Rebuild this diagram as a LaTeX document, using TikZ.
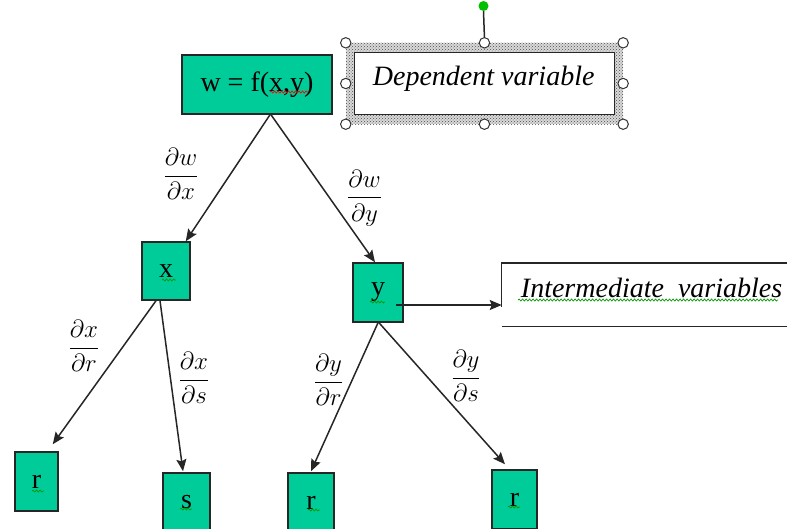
\documentclass[tikz,border=0pt]{standalone}
\usepackage{amsmath}
\usepackage{fontspec}
\setmainfont{Liberation Serif}
\usetikzlibrary{arrows.meta, positioning, patterns, decorations.pathmorphing}
\definecolor{boxgreen}{RGB}{0,204,153}

\begin{document}
\begin{tikzpicture}[
    x=1pt, y=-1pt,
    var/.style={rectangle, draw=black!85, line width=1.5pt, fill=boxgreen, minimum width=46pt, minimum height=59pt, inner sep=0pt, font=\fontsize{28}{32}\selectfont},
    func/.style={var, minimum width=150pt},
    note/.style={inner sep=0pt, font=\fontsize{28}{32}\selectfont\itshape},
    deriv/.style={inner sep=0pt, font=\fontsize{23}{27}\selectfont},
    arrow/.style={-{Stealth[length=12pt, width=10pt, inset=2pt]}, line width=1.5pt, draw=black!85},
    handle/.style={draw=black!80, fill=white, line width=1pt},
    squig/.style={decorate, decoration={snake, amplitude=1pt, segment length=3.5pt}, line width=0.7pt}
]
\useasboundingbox (0,0) rectangle (787,528);
\clip (0,0) rectangle (787,528);

% top of the tree
\node (w) [func] at (257,84.5) {w = f(x,y)};

% selected text box
\node (sel) [rectangle, minimum width=277pt, minimum height=81pt, inner sep=0pt, fill=gray!30, right=13pt of w, yshift=1pt] {};
\fill[pattern=crosshatch dots, pattern color=black!70] (sel.north west) rectangle (sel.south east);
\node (dep) [rectangle, draw=black!85, line width=1.6pt, fill=white, minimum width=260pt, minimum height=62pt, inner sep=0pt] at (sel.center) {};
\node (deptext) [note, anchor=base west] at ([xshift=19pt, yshift=-1.5pt]dep.west) {Dependent variable};
\foreach \a in {north west, north, north east, west, east, south west, south, south east}
    \draw[handle] (sel.\a) circle (5.2pt);
\draw[line width=1.5pt, black!85] ([yshift=5.2pt]sel.north) -- (483.5,11);
\fill[green!75!black] (483.5,6) circle (5pt);

% variables
\node (x) [var, minimum width=48pt, minimum height=58pt] at (166,271) {x};
\node (y) [var, minimum width=50pt] at (378,292.5) {y};
\node (r1) [var, minimum width=43pt] at (36.5,481.5) {r};
\node (s) [var, minimum width=47pt] at (186.5,502.5) {s};
\node (r2) [var] at (311,502.5) {r};
\node (r3) [var, minimum width=45pt] at (514.5,499.5) {r};

% intermediate variables box
\node (interbox) [rectangle, minimum width=300pt, minimum height=63pt, inner sep=0pt, anchor=west, right=98pt of y, yshift=-2pt] {};
\draw[line width=1.4pt, black!85] (interbox.north east) -- (interbox.north west) -- ([yshift=-44pt]interbox.north west);
\draw[line width=1.4pt, black!85] (interbox.south west) -- (interbox.south east);
\node (inter) [note, anchor=base west] at ([xshift=19pt, yshift=-2.5pt]interbox.west) {Intermediate\ \ variables};

% partial derivatives
\node (dwdx) [deriv] at (181,174) {$\dfrac{\partial w}{\partial x}$};
\node (dwdy) [deriv] at (364.5,198) {$\dfrac{\partial w}{\partial y}$};
\node (dxdr) [deriv] at (84,346) {$\dfrac{\partial x}{\partial r}$};
\node (dxds) [deriv] at (194,378) {$\dfrac{\partial x}{\partial s}$};
\node (dydr) [deriv] at (328.5,380) {$\dfrac{\partial y}{\partial r}$};
\node (dyds) [deriv] at (466,376) {$\dfrac{\partial y}{\partial s}$};

% connectors
\draw [arrow] ([xshift=13pt]w.south) -- ([xshift=-5pt]x.north east);
\draw [arrow] ([xshift=14pt]w.south) -- ([xshift=-3pt]y.north);
\draw [arrow] ([xshift=-10pt]x.south) -- ([xshift=-6pt, yshift=7pt]r1.north east);
\draw [arrow] ([xshift=-6pt]x.south) -- ([xshift=-3.5pt, yshift=1pt]s.north);
\draw [arrow] (y.south) -- ([yshift=1pt]r2.north);
\draw [arrow] ([xshift=1pt]y.south) -- ([xshift=-9.5pt, yshift=5pt]r3.north);
\draw [arrow] ([xshift=-8pt, yshift=-12.5pt]y.east) -- ([yshift=-10.5pt]interbox.west);

% spelling marks
\draw[squig, red] (270,92) -- (308,92);
\draw[squig, green!60!black] (162,280) -- (176,280);
\draw[squig, green!60!black] (370,302) -- (385,302);
\draw[squig, green!60!black] (32,491) -- (44,491);
\draw[squig, green!60!black] (180,509) -- (192,509);
\draw[squig, green!60!black] (308,510) -- (320,510);
\draw[squig, green!60!black] (508,507) -- (520,507);
\draw[squig, green!60!black] (518,300) -- (778,300);

\end{tikzpicture}
\end{document}
